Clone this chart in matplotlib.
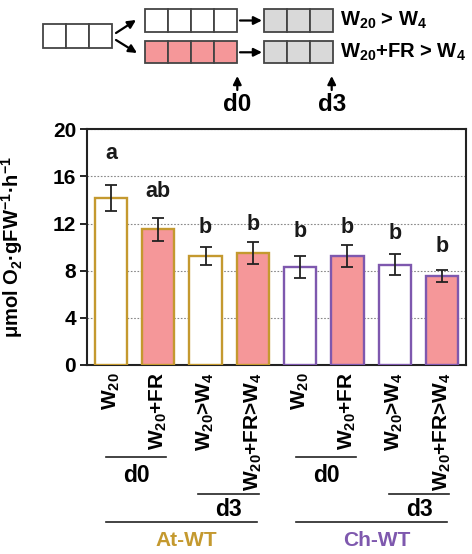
import matplotlib
matplotlib.use("Agg")
import matplotlib.pyplot as plt
from matplotlib.patches import Rectangle, FancyArrowPatch

plt.rcParams['font.family'] = ['Liberation Sans', 'DejaVu Sans']
plt.rcParams['font.weight'] = 'bold'
plt.rcParams['mathtext.default'] = 'regular'

# ---- data ----
tick_labels = ["W$_{20}$", "W$_{20}$+FR", "W$_{20}$>W$_4$", "W$_{20}$+FR>W$_4$",
               "W$_{20}$", "W$_{20}$+FR", "W$_{20}$>W$_4$", "W$_{20}$+FR>W$_4$"]
rates = [14.2, 11.5, 9.25, 9.5, 8.35, 9.25, 8.5, 7.55]
errors = [1.1, 0.95, 0.77, 0.96, 0.93, 0.92, 0.89, 0.5]
sig_letters = ["a", "ab", "b", "b", "b", "b", "b", "b"]
letter_y = [17.05, 13.86, 10.75, 11.03, 10.46, 10.75, 10.24, 9.19]
far_red = [False, True, False, True, False, True, False, True]
genotype = ["At-WT"] * 4 + ["Ch-WT"] * 4
yticks = [0, 4, 8, 12, 16, 20]

GOLD = "#C4992F"
PURPLE = "#7E58AE"
PINK = "#F59799"
GREY = "#D9D9D9"
edge_for = {"At-WT": GOLD, "Ch-WT": PURPLE}

W, H = 472, 554
fig = plt.figure(figsize=(W / 100, H / 100), dpi=100)

# overlay in pixel coordinates for the schematic and group brackets
ov = fig.add_axes([0, 0, 1, 1])
ov.set_xlim(0, W)
ov.set_ylim(H, 0)
ov.axis("off")

# main bar chart
ax = fig.add_axes([87.3 / W, 1 - 365 / H, (465.7 - 87.3) / W, (365 - 129.3) / H])
x = list(range(len(rates)))
for i in x:
    ax.bar(i, rates[i], width=0.68, color=PINK if far_red[i] else "white",
           edgecolor=edge_for[genotype[i]], linewidth=1.7, zorder=3)
ax.errorbar(x, rates, yerr=errors, fmt="none", ecolor="#222222",
            elinewidth=1.3, capsize=4, capthick=1.3, zorder=4)
for i in x:
    ax.text(i, letter_y[i], sig_letters[i], ha="center", va="bottom",
            fontsize=15.5, fontweight="bold", color="#1a1a1a")

ax.set_xlim(-0.5, 7.5)
ax.set_ylim(0, 20)
ax.set_yticks(yticks)
ax.set_yticklabels([str(t) for t in yticks], fontsize=15, fontweight="bold")
ax.set_xticks(x)
ax.set_xticklabels(tick_labels, rotation=90, fontsize=15, fontweight="bold",
                   va="top", ha="center")
ax.tick_params(axis="x", length=0, pad=5)
ax.tick_params(axis="y", length=5, width=1.2, direction="out", pad=3)
ax.yaxis.grid(True, linestyle=(0, (1.5, 1.5)), color="#888888", linewidth=0.8)
ax.set_axisbelow(True)
for s in ax.spines.values():
    s.set_linewidth(1.5)
    s.set_color("#222222")
ax.set_ylabel("μmol O$_2$·gFW$^{-1}$·h$^{-1}$", fontsize=14.5, fontweight="bold")
ax.yaxis.set_label_coords(-0.165, 0.5)

# ---- group brackets below the axis ----
def bracket(x0, x1, y, label, ty, color="black", size=16.5):
    ov.plot([x0, x1], [y, y], color="#222222", lw=1.2)
    ov.text((x0 + x1) / 2 + 0.5, ty, label, ha="center", va="center",
            fontsize=size, fontweight="bold", color=color)

bracket(105.7, 166, 456.7, "d0", 475)
bracket(198, 259, 494, "d3", 510)
ov.plot([105.7, 256.7], [521.7, 521.7], color="#222222", lw=1.2)
ov.text(186.7, 540, "At-WT", ha="center", va="center", fontsize=15,
        fontweight="bold", color=GOLD)
bracket(296, 355.7, 456.7, "d0", 475)
bracket(389, 449, 494, "d3", 510)
ov.plot([296, 446.7], [521.7, 521.7], color="#222222", lw=1.2)
ov.text(376.7, 540, "Ch-WT", ha="center", va="center", fontsize=15,
        fontweight="bold", color=PURPLE)

# ---- treatment schematic ----
def cells(x0, y0, x1, y1, n, fill):
    w = (x1 - x0) / n
    for k in range(n):
        ov.add_patch(Rectangle((x0 + k * w, y0), w, y1 - y0, facecolor=fill,
                               edgecolor="#444444", linewidth=1.3))

def arrow(x0, y0, x1, y1):
    ov.add_patch(FancyArrowPatch((x0, y0), (x1, y1), arrowstyle="-|>",
                                 mutation_scale=12, color="black", lw=1.6,
                                 shrinkA=0, shrinkB=0))

cells(42.7, 24.3, 111.7, 47.7, 3, "white")
arrow(116, 33, 136, 20)
arrow(116, 40, 137, 53)
cells(145, 9.3, 237.3, 32.3, 4, "white")
cells(145, 41, 237.3, 63.3, 4, PINK)
arrow(240, 20.5, 262, 20.5)
arrow(240, 52.3, 262, 52.3)
cells(264, 9.3, 333.3, 32.3, 3, GREY)
cells(264, 41, 333.3, 63.3, 3, GREY)
ov.text(340, 20.5, "W$_{20}$ > W$_4$", ha="left", va="center", fontsize=14.5,
        fontweight="bold")
ov.text(340, 52.3, "W$_{20}$+FR > W$_4$", ha="left", va="center", fontsize=14.5,
        fontweight="bold")
arrow(237.3, 90, 237.3, 76)
arrow(331.7, 90, 331.7, 76)
ov.text(237.3, 104.5, "d0", ha="center", va="center", fontsize=17.5, fontweight="bold")
ov.text(331.7, 104.5, "d3", ha="center", va="center", fontsize=17.5, fontweight="bold")

fig.savefig("out.png", dpi=100)
